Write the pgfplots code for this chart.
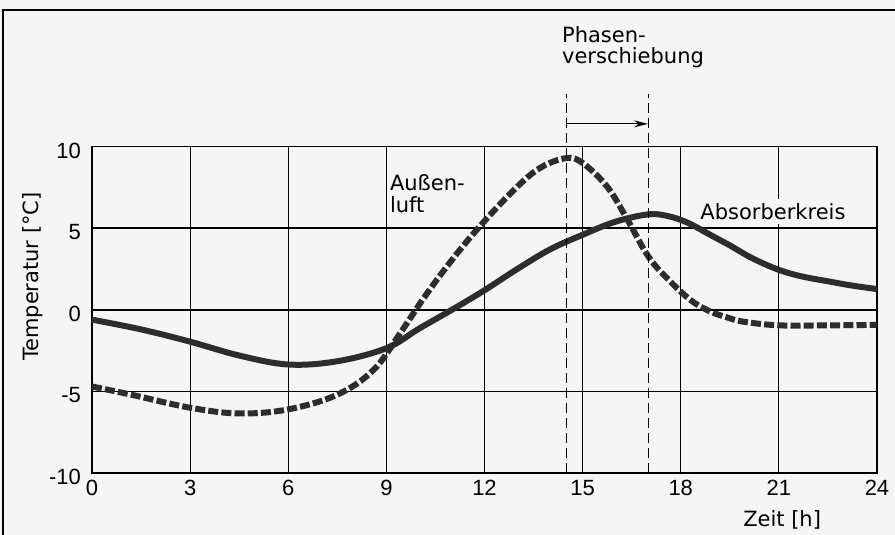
\documentclass[border=0pt]{standalone}
\usepackage{fontspec}
\setmainfont{DejaVu Sans}
\newfontfamily\tickfont{Liberation Sans}
\usepackage{pgfplots}
\pgfplotsset{compat=1.18}
\usetikzlibrary{arrows.meta}
\definecolor{bgcol}{RGB}{245,245,245}
\definecolor{ink}{RGB}{45,45,45}
\newcommand{\lbl}{\fontsize{10.5}{10.9}\selectfont}

\begin{document}
\begin{tikzpicture}
  % page background and the partial frame of the scan
  \path[fill=bgcol, use as bounding box] (-46pt,-31pt) rectangle (401.5pt,236.5pt);
  \draw[line width=1pt] (-44.5pt,-31pt) -- (-44.5pt,231.5pt) -- (401.5pt,231.5pt);
  \begin{axis}[
      at={(0,0)}, anchor=south west,
      scale only axis, width=392.5pt, height=163.15pt,
      xmin=0, xmax=24, ymin=-10, ymax=10,
      xtick={0,3,...,24}, ytick={-10,-5,...,10},
      major tick length=0pt,
      grid=major,
      x grid style={black, line width=0.5pt},
      y grid style={black, line width=0.8pt},
      axis line style={black, line width=0.8pt},
      tick label style={font=\tickfont\fontsize{11}{11}\selectfont},
      yticklabel style={xshift=-2pt, yshift=-2pt},
      /pgf/number format/assume math mode=true,
      clip=false,
    ]
    % Absorberkreis
    \addplot[ink, line width=3pt, smooth, tension=0.6] coordinates {
      (0,-0.6) (1.5,-1.2) (3,-1.95) (4.5,-2.8) (6,-3.35) (7.5,-3.15)
      (9,-2.35) (10,-1.15) (11,0.0) (12,1.2) (13,2.5) (14,3.7) (15,4.6)
      (16,5.4) (17,5.85) (17.6,5.75) (18.2,5.35) (18.9,4.6) (19.5,3.95)
      (20.2,3.15) (21,2.45) (21.7,2.05) (22.5,1.75) (23.2,1.5) (24,1.27)
    };
    % Aussenluft
    \addplot[ink, line width=3pt, smooth, tension=0.6, dash pattern=on 5pt off 1.6pt] coordinates {
      (0,-4.7) (1.2,-5.2) (3,-6.0) (4.5,-6.35) (6,-6.1) (7.5,-5.2)
      (8.6,-3.7) (9.4,-1.5) (10.1,0.6) (10.85,2.66) (11.76,4.9)
      (12.9,7.35) (13.7,8.7) (14.5,9.3) (15,9.0) (15.75,7.55)
      (16.35,5.6) (17,3.3) (17.6,1.9) (18.3,0.6) (18.9,-0.1)
      (19.4,-0.45) (19.9,-0.72) (21,-0.95) (22.5,-0.95) (24,-0.92)
    };
    % peak markers
    \addplot[black, line width=0.5pt, dash pattern=on 5pt off 2.5pt] coordinates {(14.5,-10) (14.5,13.2)};
    \addplot[black, line width=0.5pt, dash pattern=on 5pt off 2.5pt] coordinates {(17,-10) (17,13.2)};
    \draw[-{Stealth[length=7pt,width=3.5pt]}, line width=0.6pt]
      (axis cs:14.5,11.4) -- (axis cs:17,11.4);

    \node[anchor=west, align=left, inner sep=0pt, font=\lbl] at (axis cs:14.36,16.1) {Phasen-\\verschiebung};
    \node[anchor=west, align=left, inner sep=0pt, font=\lbl] at (axis cs:9.1,7.1) {Außen-\\luft};
    \node[anchor=west, fill=bgcol, inner xsep=0pt, inner ysep=2pt, font=\lbl] at (axis cs:18.59,6.03) {Absorberkreis};
    \node[font=\lbl] at (axis cs:21.1,-12.9) {Zeit [h]};
    \node[rotate=90, font=\lbl] at (axis cs:-1.8,2.04) {Temperatur [°C]};
  \end{axis}
\end{tikzpicture}
\end{document}
